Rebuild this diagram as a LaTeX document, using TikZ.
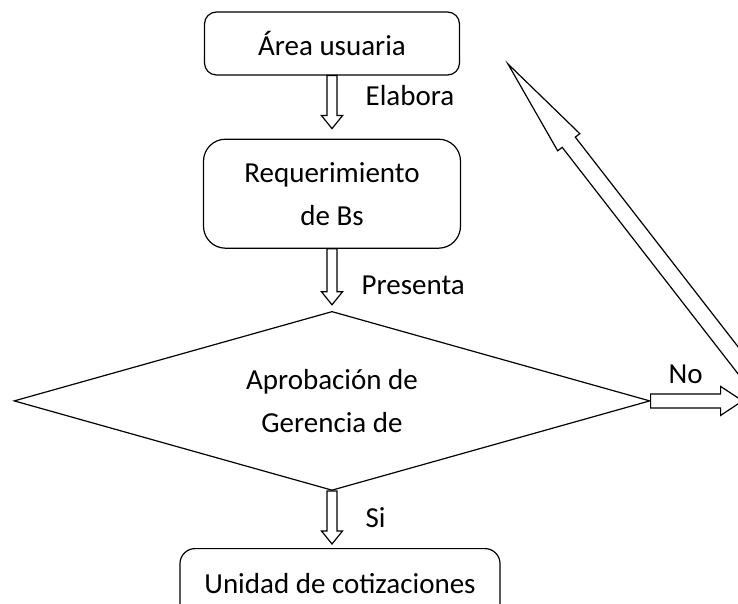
\documentclass[tikz,border=0pt]{standalone}
\usepackage{fontspec}
\setmainfont{Carlito}
\usetikzlibrary{positioning, shapes.geometric, calc}
\tikzset{
    x=1pt, y=1pt, % one unit is one pixel of the sketch
    every node/.style={font=\fontsize{29}{43}\selectfont}, % big Calibri-like text everywhere
    proc/.style={draw, line width=1.2pt, fill=white, align=center}, % rounded process boxes
    decision/.style={draw, diamond, line width=1.2pt, align=center, aspect=3.55}, % the question
    tag/.style={inner sep=2pt}, % words beside the arrows
    blockarrow/.style n args={3}{% hollow arrow: shaft half width, head half width, head length
        line width=1.2pt, fill=white, line join=miter,
        to path={
            let \p1=(\tikztostart), \p2=(\tikztotarget),
                \n1={atan2(\y2-\y1,\x2-\x1)},
                \n2={veclen(\x2-\x1,\y2-\y1)} in
            ($(\p1)+({\n1+90}:#1pt)$)
            -- ($(\p1)+(\n1:{\n2-#3pt})+({\n1+90}:#1pt)$) \tikztonodes
            -- ($(\p1)+(\n1:{\n2-#3pt})+({\n1+90}:#2pt)$)
            -- (\p2)
            -- ($(\p1)+(\n1:{\n2-#3pt})+({\n1-90}:#2pt)$)
            -- ($(\p1)+(\n1:{\n2-#3pt})+({\n1-90}:#1pt)$)
            -- ($(\p1)+({\n1-90}:#1pt)$) -- cycle
        }},
    }

\begin{document}
\begin{tikzpicture}
\useasboundingbox (0,0) rectangle (738,603);
\clip (0,0) rectangle (738,603);

\node[proc, minimum width=255pt, minimum height=63pt, rounded corners=12pt] (area) at (332,559.5) {Área usuaria};
\node[proc, minimum width=257pt, minimum height=109pt, rounded corners=22pt, below=63pt of area] (req) {Requerimiento\\de Bs};
\node[decision, minimum width=636pt, minimum height=179pt, below=62pt of req] (dec) {Aprobación de\\Gerencia de};
\node[proc, minimum width=320pt, minimum height=70pt, rounded corners=15pt, below=57pt of dec, xshift=8pt] (cot) {Unidad de cotizaciones};

\coordinate[right=92pt of dec.east] (noend);
\coordinate (retorno) at (765,208);
\coordinate (retip) at (508,539);

\draw (area.south) edge[blockarrow={5}{10.5}{13}] node[tag, right=26pt, midway] (elabora) {Elabora} ($(req.north)+(0,10)$)
(req.south) edge[blockarrow={5}{10.5}{13}] node[tag, right=22pt, pos=0.84] (presenta) {Presenta} ($(dec.north)+(0,6)$)
(dec.south) edge[blockarrow={5}{10.5}{13}] node[tag, right=26pt, pos=0.66] (si) {Si} ($(dec.south |- cot.north)+(0,4)$)
(dec.east) edge[blockarrow={7}{14.5}{22}] node[tag, above=8pt, midway] (no) {No} (noend)
(retorno) edge[blockarrow={8.3}{14}{99}] (retip);

\end{tikzpicture}
\end{document}
